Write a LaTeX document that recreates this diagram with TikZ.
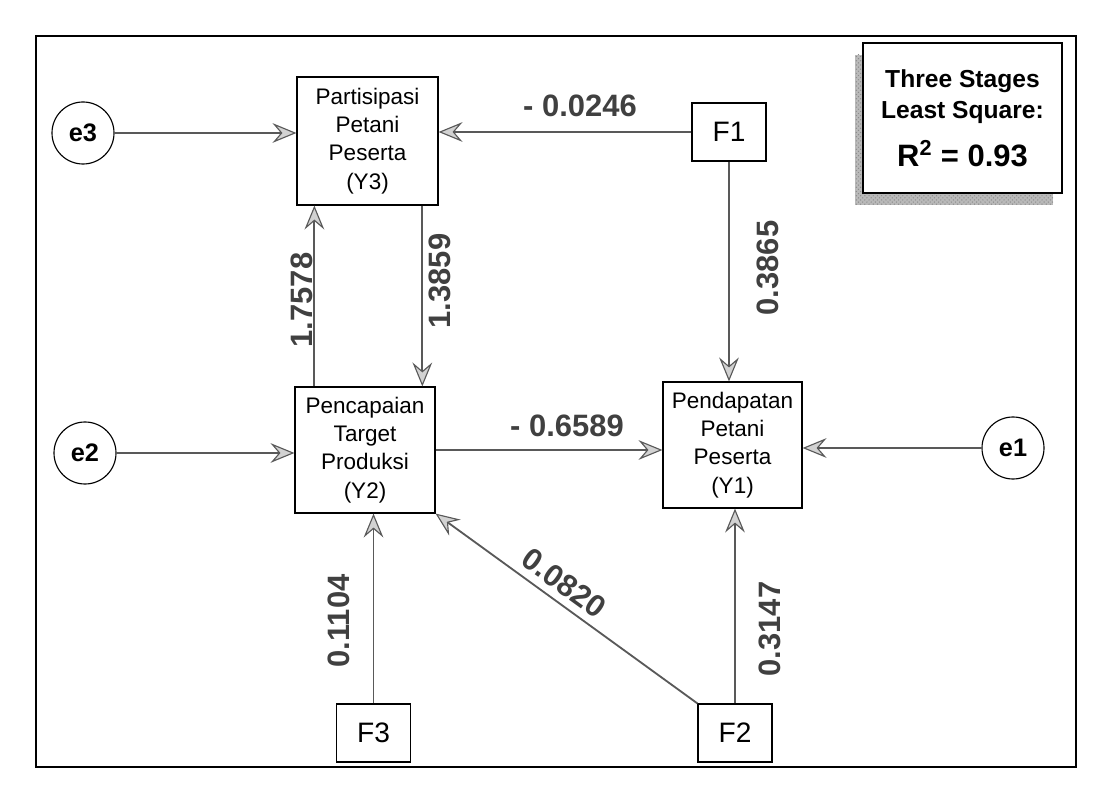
\documentclass[tikz,border=0pt]{standalone}
\usepackage{fontspec}
\setmainfont{Liberation Sans}
\usetikzlibrary{arrows.meta,positioning,patterns}

\begin{document}
\begin{tikzpicture}[x=0.025cm, y=-0.025cm,
  varbox/.style={draw, thick, align=center, inner sep=1pt,
    font=\fontsize{16}{20}\selectfont},
  facbox/.style={draw, thick, minimum width=1.85cm, minimum height=1.45cm,
    font=\fontsize{20}{24}\selectfont},
  errnode/.style={draw, thick, circle, minimum size=1.55cm, inner sep=0pt,
    font=\fontsize{18}{20}\selectfont\bfseries},
  pathline/.style={draw=black!65, line width=1.3pt,
    -{Stealth[length=17pt, width=14pt, inset=6pt, fill=gray!35, line width=0.8pt]}},
  coef/.style={font=\fontsize{22}{24}\selectfont\bfseries, text=black!75}]
  \useasboundingbox (0,0) rectangle (1110,799);
  % Frame
  \draw[thick] (36,36) rectangle (1076,767);
  % Endogenous variables
  \node[varbox, minimum width=3.525cm, minimum height=3.2cm] (Y3) at (367.5,141)
    {Partisipasi\\Petani\\Peserta\\(Y3)};
  \node[varbox, minimum width=3.5cm, minimum height=3.15cm] (Y2) at (365,450)
    {Pencapaian\\Target\\Produksi\\(Y2)};
  \node[varbox, minimum width=3.475cm, minimum height=3.15cm] (Y1) at (732.5,445)
    {Pendapatan\\Petani\\Peserta\\(Y1)};
  % Exogenous factors
  \node[facbox] (F1) at (729,132) {F1};
  \node[facbox] (F2) at (735,733) {F2};
  \node[facbox] (F3) at (373.5,733) {F3};
  % Error terms
  \node[errnode] (e3) at (83,133) {e3};
  \node[errnode] (e2) at (85,453) {e2};
  \node[errnode] (e1) at (1013,448) {e1};
  % Fit box with shadow
  \fill[gray!55] (855,55) rectangle (1053,205);
  \fill[pattern=crosshatch dots, pattern color=gray!90] (855,55) rectangle (1053,205);
  \node[draw, thick, fill=white, minimum width=4.975cm, minimum height=3.75cm,
    align=center, font=\fontsize{17.5}{22}\selectfont\bfseries] (fit) at (962.5,118)
    {Three Stages\\Least Square:\\[12pt]{\fontsize{22}{24}\selectfont R$^{\mathbf{2}}$ = 0.93}};
  % Paths
  \draw[pathline] (e3) -- (e3 -| Y3.west);
  \draw[pathline] (F1) -- (F1 -| Y3.east);
  \draw[pathline] (F1) -- (F1 |- Y1.north);
  \draw[pathline] ([xshift=-36] Y2.north) -- ([xshift=-36] Y2.north |- Y3.south);
  \draw[pathline] ([xshift=39] Y3.south) -- ([xshift=39] Y3.south |- Y2.north);
  \draw[pathline] (e2) -- (e2 -| Y2.west);
  \draw[pathline] (Y2) -- (Y2 -| Y1.west);
  \draw[pathline] (e1) -- (e1 -| Y1.east);
  \draw[pathline] (F3) -- (F3 |- Y2.south);
  \draw[pathline] (F2.north west) -- (Y2.south east);
  \draw[pathline] (F2) -- (F2 |- Y1.south);
  % Coefficients
  \node[coef] at (580,106) {- 0.0246};
  \node[coef] at (567,426) {- 0.6589};
  \node[coef, rotate=90] at (302,300) {1.7578};
  \node[coef, rotate=90] at (440,281) {1.3859};
  \node[coef, rotate=90] at (768,268) {0.3865};
  \node[coef, rotate=90] at (339,621) {0.1104};
  \node[coef, rotate=90] at (770,629) {0.3147};
  \node[coef, rotate=-35.9] at (564,583) {0.0820};
\end{tikzpicture}
\end{document}
